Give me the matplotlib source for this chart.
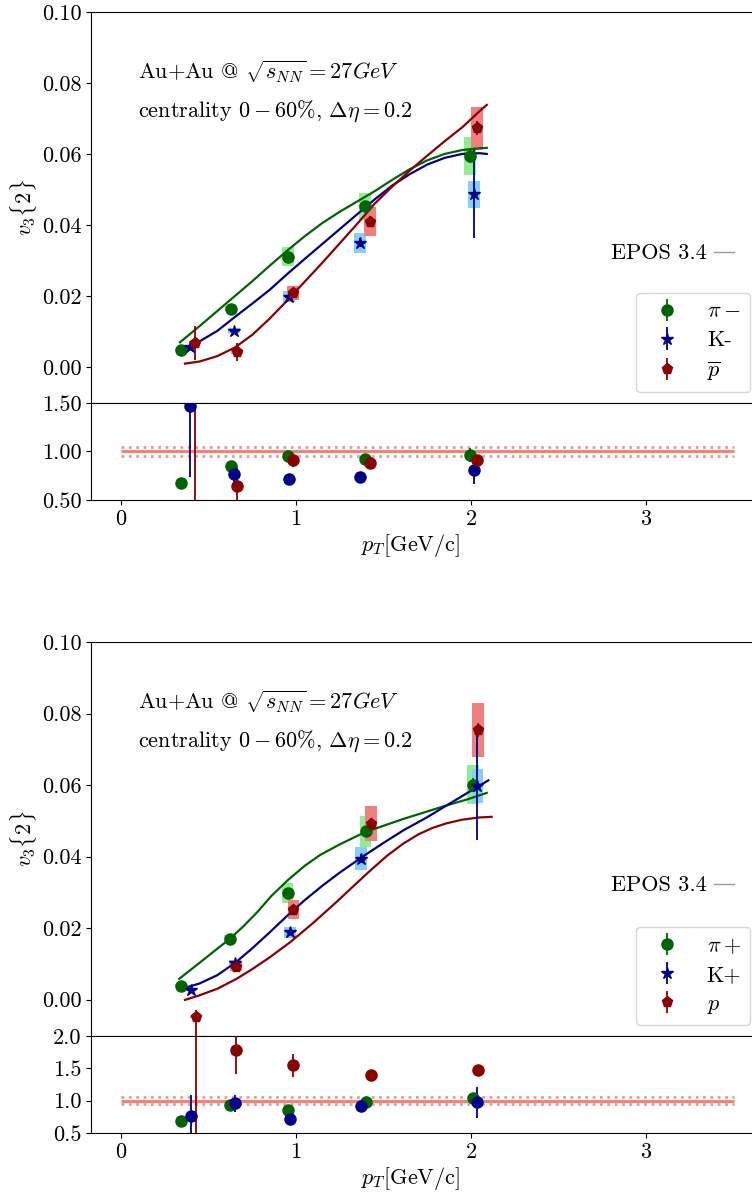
import numpy as np
import matplotlib
matplotlib.use("Agg")
import matplotlib.pyplot as plt
from matplotlib.ticker import FormatStrFormatter

plt.rcParams['font.family'] = ['cmr10', 'DejaVu Serif']
plt.rcParams['mathtext.fontset'] = 'cm'
plt.rcParams['axes.formatter.use_mathtext'] = True
plt.rcParams['axes.unicode_minus'] = False
plt.rcParams['font.size'] = 16

# ---------------- data: negative particles (top) ----------------
neg_labels = [r'$\pi-$', 'K-', r'$\overline{p}$']
neg_pt = [
    [0.343, 0.629, 0.954, 1.394, 1.994],
    [0.394, 0.646, 0.960, 1.366, 2.017],
    [0.423, 0.663, 0.983, 1.423, 2.034],
]
neg_v3 = [
    [0.0048, 0.0163, 0.0310, 0.0452, 0.0594],
    [0.0055, 0.0101, 0.0198, 0.0350, 0.0487],
    [0.0068, 0.0041, 0.0209, 0.0409, 0.0672],
]
neg_stat = [
    [0.0004, 0.0005, 0.0006, 0.0008, 0.0020],
    [0.0004, 0.0006, 0.0008, 0.0012, 0.0124],
    [0.0048, 0.0025, 0.0012, 0.0015, 0.0020],
]
neg_sys = [
    [0.0004, 0.0007, 0.0027, 0.0039, 0.0054],
    [0.0004, 0.0007, 0.0015, 0.0028, 0.0038],
    [0.0004, 0.0005, 0.0020, 0.0041, 0.0061],
]
neg_model_pt = [
    [0.337, 0.45, 0.55, 0.65, 0.75, 0.85, 0.956, 1.05, 1.15, 1.25, 1.35, 1.45, 1.55,
     1.65, 1.75, 1.85, 1.95, 2.05, 2.09],
    [0.375, 0.45, 0.55, 0.65, 0.75, 0.85, 0.956, 1.05, 1.15, 1.25, 1.35, 1.45, 1.55,
     1.65, 1.75, 1.85, 1.95, 2.05, 2.09],
    [0.366, 0.45, 0.55, 0.65, 0.75, 0.85, 0.956, 1.05, 1.15, 1.25, 1.35, 1.45, 1.55,
     1.65, 1.75, 1.85, 1.95, 2.05, 2.09],
]
neg_model_v3 = [
    [0.0069, 0.0115, 0.0157, 0.0199, 0.0241, 0.0285, 0.0330, 0.0368, 0.0405, 0.0437,
     0.0466, 0.0495, 0.0527, 0.0557, 0.0582, 0.0600, 0.0611, 0.0616, 0.0617],
    [0.0055, 0.0072, 0.0101, 0.0140, 0.0178, 0.0217, 0.0264, 0.0304, 0.0346, 0.0388,
     0.0430, 0.0472, 0.0511, 0.0543, 0.0570, 0.0589, 0.0600, 0.0602, 0.0600],
    [0.0009, 0.0015, 0.0030, 0.0054, 0.0090, 0.0136, 0.0190, 0.0240, 0.0293, 0.0348,
     0.0403, 0.0460, 0.0508, 0.0553, 0.0595, 0.0636, 0.0675, 0.0721, 0.0738],
]
neg_ratio = [
    [0.676, 0.855, 0.956, 0.922, 0.966],
    [1.473, 0.770, 0.713, 0.740, 0.814],
    [5.6, 0.640, 0.909, 0.880, 0.915],
]
neg_ratio_err = [
    [0.01, 0.02, 0.03, 0.02, 0.07],
    [0.74, 0.08, 0.02, 0.02, 0.15],
    [5.2, 0.20, 0.07, 0.03, 0.03],
]

# ---------------- data: positive particles (bottom) ----------------
pos_labels = [r'$\pi+$', 'K+', r'$p$']
pos_pt = [
    [0.341, 0.623, 0.952, 1.398, 2.010],
    [0.398, 0.651, 0.966, 1.370, 2.036],
    [0.427, 0.657, 0.985, 1.429, 2.040],
]
pos_v3 = [
    [0.0039, 0.0170, 0.0298, 0.0471, 0.0601],
    [0.0027, 0.0102, 0.0188, 0.0394, 0.0597],
    [-0.0049, 0.0092, 0.0251, 0.0492, 0.0754],
]
pos_stat_lo = [
    [0.0004, 0.0005, 0.0006, 0.0008, 0.0020],
    [0.0004, 0.0006, 0.0008, 0.0012, 0.0152],
    [0.0060, 0.0008, 0.0010, 0.0015, 0.0020],
]
pos_stat_hi = [
    [0.0004, 0.0005, 0.0006, 0.0008, 0.0020],
    [0.0004, 0.0006, 0.0008, 0.0012, 0.0152],
    [0.0019, 0.0008, 0.0010, 0.0015, 0.0020],
]
pos_sys = [
    [0.0004, 0.0010, 0.0027, 0.0043, 0.0054],
    [0.0004, 0.0008, 0.0016, 0.0032, 0.0048],
    [0.0004, 0.0013, 0.0026, 0.0049, 0.0075],
]
pos_model_pt = [
    [0.333, 0.45, 0.55, 0.623, 0.70, 0.78, 0.86, 0.956, 1.05, 1.137, 1.25, 1.394, 1.5,
     1.613, 1.75, 1.861, 1.98, 2.09],
    [0.375, 0.45, 0.55, 0.651, 0.75, 0.85, 0.956, 1.05, 1.15, 1.25, 1.394, 1.5, 1.613,
     1.75, 1.861, 1.98, 2.099],
    [0.366, 0.45, 0.55, 0.661, 0.75, 0.85, 0.966, 1.1, 1.232, 1.33, 1.423, 1.52, 1.613,
     1.70, 1.78, 1.861, 1.95, 2.04, 2.118],
]
pos_model_v3 = [
    [0.0058, 0.0103, 0.0142, 0.0170, 0.0205, 0.0245, 0.0290, 0.0335, 0.0374, 0.0404,
     0.0434, 0.0468, 0.0486, 0.0505, 0.0526, 0.0543, 0.0560, 0.0578],
    [0.0034, 0.0045, 0.0068, 0.0102, 0.0143, 0.0188, 0.0237, 0.0278, 0.0318, 0.0355,
     0.0404, 0.0438, 0.0473, 0.0510, 0.0543, 0.0578, 0.0613],
    [-0.0001, 0.0012, 0.0030, 0.0058, 0.0085, 0.0118, 0.0160, 0.0215, 0.0273, 0.0318,
     0.0360, 0.0402, 0.0436, 0.0462, 0.0480, 0.0493, 0.0503, 0.0509, 0.0511],
]
pos_ratio = [
    [0.685, 0.934, 0.853, 0.985, 1.040],
    [0.760, 0.960, 0.720, 0.914, 0.975],
    [-8.0, 1.787, 1.548, 1.390, 1.477],
]
pos_ratio_err = [
    [0.01, 0.03, 0.02, 0.02, 0.03],
    [0.32, 0.13, 0.02, 0.02, 0.24],
    [11.0, 0.37, 0.18, 0.02, 0.02],
]

colors = ['darkgreen', 'darkblue', 'darkred']
box_colors = ['lightgreen', 'lightskyblue', 'lightcoral']
markers = ['o', '*', 'p']
msizes = [8, 9, 8]

W, H = 752, 1196
fig = plt.figure(figsize=(W / 100, H / 100), dpi=100)


def rect(l, t, r, b):
    return [l / W, 1 - b / H, (r - l) / W, (b - t) / H]


XL = (-0.171, 3.614)


def draw_panel(ax, axr, pts, vals, err_lo, err_hi, syss, mpts, mvals, ratios, rerrs,
               labels, rylim, rticks, rfmt):
    for i in range(3):
        ax.bar(pts[i], [2 * s for s in syss[i]],
               bottom=[v - s for v, s in zip(vals[i], syss[i])],
               width=0.066, color=box_colors[i], zorder=1, linewidth=0)
    for i in range(3):
        ax.plot(mpts[i], mvals[i], color=colors[i], lw=1.6, zorder=2)
    for i in range(3):
        ax.errorbar(pts[i], vals[i], yerr=[err_lo[i], err_hi[i]], fmt=markers[i],
                    color=colors[i], ms=msizes[i], elinewidth=1.3, label=labels[i], zorder=3)
    ax.set_xlim(*XL)
    ax.set_ylim(-0.0102, 0.10)
    ax.set_yticks([0.0, 0.02, 0.04, 0.06, 0.08, 0.10])
    ax.yaxis.set_major_formatter(FormatStrFormatter('%.2f'))
    ax.tick_params(axis='x', bottom=False, labelbottom=False)
    ax.set_ylabel(r'$v_3\{2\}$')
    ax.text(0.071, 0.847, r'Au+Au @ $\sqrt{s_{NN}}=27GeV$', transform=ax.transAxes,
            va='center', ha='left')
    ax.text(0.071, 0.747, r'centrality $0-60\%$, $\Delta\eta=0.2$', transform=ax.transAxes,
            va='center', ha='left')
    ax.text(0.930, 0.383, 'EPOS 3.4', transform=ax.transAxes, va='center', ha='right')
    ax.plot([0.941, 0.971], [0.386, 0.386], transform=ax.transAxes, color='0.6', lw=1)
    ax.legend(loc='lower right', bbox_to_anchor=(1.0, 0.02), borderaxespad=0.15,
              labelspacing=0.42)

    axr.hlines(1.0, 0, 3.5, color='salmon', lw=2.2, zorder=1)
    axr.hlines([0.95, 1.05], 0, 3.5, color='indianred', alpha=0.6, lw=2,
               linestyles=':', zorder=1)
    for i in range(3):
        axr.errorbar(pts[i], ratios[i], yerr=rerrs[i], fmt='o', color=colors[i],
                     ms=8, elinewidth=1.3, zorder=3)
    axr.set_xlim(*XL)
    axr.set_ylim(*rylim)
    axr.set_yticks(rticks)
    axr.yaxis.set_major_formatter(FormatStrFormatter(rfmt))
    axr.set_xticks([0, 1, 2, 3])
    axr.set_xlabel(r'$p_T$[GeV/c]')
    axr.xaxis.set_label_coords(0.483, -0.33)


ax1 = fig.add_axes(rect(91, 12, 753.5, 403))
ax1r = fig.add_axes(rect(91, 403, 753.5, 500))
ax2 = fig.add_axes(rect(91, 642, 753.5, 1036))
ax2r = fig.add_axes(rect(91, 1036, 753.5, 1133))

draw_panel(ax1, ax1r, neg_pt, neg_v3, neg_stat, neg_stat, neg_sys, neg_model_pt, neg_model_v3,
           neg_ratio, neg_ratio_err, neg_labels, (0.5, 1.5), [0.5, 1.0, 1.5], '%.2f')
draw_panel(ax2, ax2r, pos_pt, pos_v3, pos_stat_lo, pos_stat_hi, pos_sys, pos_model_pt,
           pos_model_v3, pos_ratio, pos_ratio_err, pos_labels, (0.5, 2.0),
           [0.5, 1.0, 1.5, 2.0], '%.1f')

for ax in (ax1, ax2):
    ax.yaxis.set_label_coords(-0.078, 0.5)

fig.savefig('out.png', dpi=100)
